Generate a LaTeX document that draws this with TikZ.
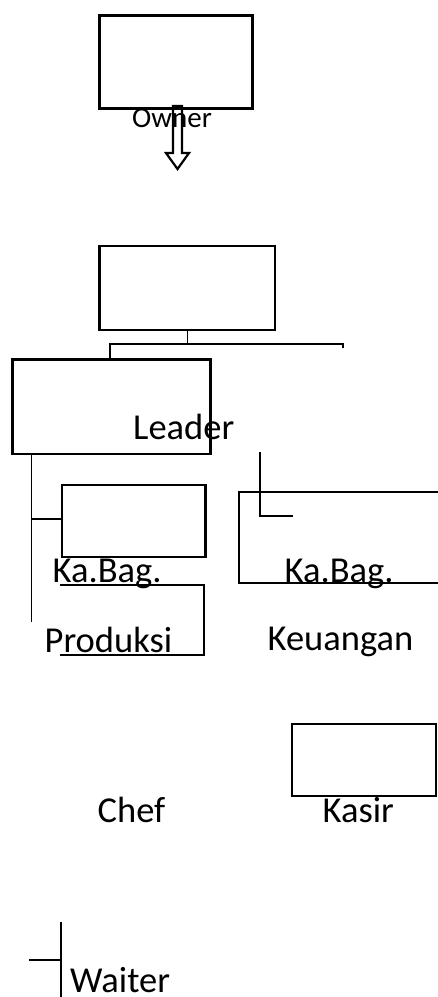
\documentclass[tikz,border=0pt]{standalone}
\usepackage{fontspec}
\setmainfont{Carlito}
\begin{document}
\begin{tikzpicture}[x=1pt,y=-1pt,
  box/.style={draw, line width=2.5pt, inner sep=0pt, anchor=north west},
  wire/.style={line width=1.3pt},
  frame/.style={line width=2.5pt},
  lbl/.style={inner sep=0pt, anchor=base west, font=\fontsize{36.5}{40}\selectfont},
  smalllbl/.style={lbl, font=\fontsize{29}{32}\selectfont}]
\useasboundingbox (0,0) rectangle (438,997);

% boxes
\node[box, line width=3.2pt, minimum width=153pt, minimum height=93pt] (owner) at (97.5,14) {};
\node[box, minimum width=175.8pt, minimum height=83.8pt] (chiefbox) at (98,244.7) {};
\node[box, minimum width=198pt, minimum height=94.8pt] (leaderbox) at (11.2,358) {};
\node[box, minimum width=143.7pt, minimum height=72pt] (prodbox) at (60.5,483.5) {};
\node[box, minimum width=144pt, minimum height=72.2pt] (kasirbox) at (290.7,722.5) {};

% open frames
\coordinate (pa) at (60,585);
\coordinate (pb) at (204.2,585);
\coordinate (pc) at (204.2,655);
\coordinate (pd) at (60,655);
\draw[frame] (pa) -- (pb) -- (pc) -- (pd);
\coordinate (ka) at (440,491.8);
\coordinate (kb) at (239.2,491.8);
\coordinate (kc) at (239.2,583.2);
\coordinate (kd) at (440,583.2);
\draw[frame] (ka) -- (kb) -- (kc) -- (kd);

% labels
\node[smalllbl] (towner) at (132,127) {Owner};
\node[lbl] (tleader) at (133,439) {Leader};
\node[lbl] (tkabag1) at (52.5,582) {Ka.Bag.};
\node[lbl] (tprod) at (44.5,652) {Produksi};
\node[lbl] (tkabag2) at (284.5,582) {Ka.Bag.};
\node[lbl] (tkeu) at (267.5,650) {Keuangan};
\node[lbl] (tchef) at (97.5,822) {Chef};
\node[lbl] (tkasir) at (322.5,822) {Kasir};
\node[lbl] (twaiter) at (70,992) {Waiter};

% hollow arrow below the owner box
\coordinate (ar1) at (173,106);
\coordinate (ar2) at (182,106);
\coordinate (ar3) at (182,153);
\coordinate (ar4) at (189,153);
\coordinate (ar5) at (177.5,169);
\coordinate (ar6) at (166,153);
\coordinate (ar7) at (173,153);
\draw[line width=2.2pt, line join=miter] (ar1) -- (ar2) -- (ar3) -- (ar4) -- (ar5) -- (ar6) -- (ar7) -- cycle;

% connectors
\coordinate (busL) at (110,344);
\coordinate (busR) at (343,344);
\coordinate (busRend) at (343,347.5);
\draw[wire] (chiefbox.south) -- (chiefbox.south |- busL);
\draw[wire] (leaderbox.north west -| busL) -- (busL) -- (busR) -- (busRend);

\coordinate (lv1) at (31.7,453);
\coordinate (lv2) at (31.7,622);
\coordinate (lh1) at (31.7,519);
\draw[wire] (leaderbox.south -| lv1) -- (lv2);
\draw[wire] (lh1) -- (prodbox.west |- lh1);

\coordinate (rv1) at (260,452);
\coordinate (rv2) at (260,516);
\coordinate (rv3) at (293,516);
\draw[wire] (rv1) -- (rv2) -- (rv3);

\coordinate (wv1) at (61,922);
\coordinate (wv2) at (61,1000);
\coordinate (wh1) at (29,960);
\draw[wire] (wv1) -- (wv2);
\draw[wire] (wh1) -- (wv1 |- wh1);
\end{tikzpicture}
\end{document}
